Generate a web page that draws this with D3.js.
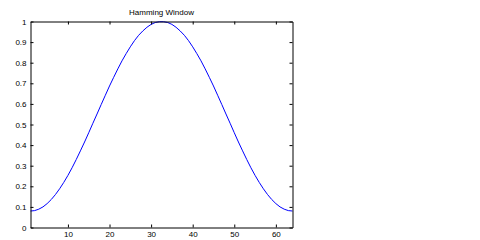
<!DOCTYPE html>
<html lang="en">
<head>
<meta charset="utf-8">
<script src="https://d3js.org/d3.v7.min.js"></script>
<style>
  body { margin: 0; background: #fff; }
  text { font-family: "Liberation Sans", Arial, sans-serif; font-size: 8px; fill: #000; }
</style>
</head>
<body>
<script>
// hamming window, 64 samples
var samples = d3.range(1, 65);
var values = [
  0.080, 0.082, 0.089, 0.100, 0.116, 0.136, 0.160, 0.188,
  0.219, 0.253, 0.290, 0.330, 0.372, 0.415, 0.460, 0.506,
  0.551, 0.597, 0.642, 0.687, 0.729, 0.770, 0.809, 0.844,
  0.877, 0.907, 0.933, 0.954, 0.972, 0.986, 0.995, 0.999,
  0.999, 0.995, 0.986, 0.972, 0.954, 0.933, 0.907, 0.877,
  0.844, 0.809, 0.770, 0.729, 0.687, 0.642, 0.597, 0.551,
  0.506, 0.460, 0.415, 0.372, 0.330, 0.290, 0.253, 0.219,
  0.188, 0.160, 0.136, 0.116, 0.100, 0.089, 0.082, 0.080
];
var xTicks = [10, 20, 30, 40, 50, 60];
var yTicks = [0, 0.1, 0.2, 0.3, 0.4, 0.5, 0.6, 0.7, 0.8, 0.9, 1];

var plotL = 30.5, plotT = 21.5, plotR = 292.5, plotB = 227.5;

var svg = d3.select("body").append("svg")
  .attr("width", 480).attr("height", 240);

var x = d3.scaleLinear().domain([1, 64]).range([plotL, plotR]);
var y = d3.scaleLinear().domain([0, 1]).range([plotB, plotT]);

var line = d3.line()
  .x(function(d, i) { return x(samples[i]); })
  .y(function(d) { return y(d); });

svg.append("path")
  .datum(values)
  .attr("d", line)
  .attr("fill", "none")
  .attr("stroke", "#0000ff")
  .attr("stroke-width", 1);

// axes, ticks pointing inward on all four sides
var fmtY = function(d) { return d === 0 || d === 1 ? d : d3.format(".1f")(d); };

svg.append("g").attr("transform", "translate(0," + plotB + ")")
  .call(d3.axisBottom(x).tickValues(xTicks).tickSizeInner(-3).tickSizeOuter(0).tickPadding(4));
svg.append("g").attr("transform", "translate(0," + plotT + ")")
  .call(d3.axisTop(x).tickValues(xTicks).tickSizeInner(-3).tickSizeOuter(0).tickFormat(""));
svg.append("g").attr("transform", "translate(" + plotL + ",0)")
  .call(d3.axisLeft(y).tickValues(yTicks).tickSizeInner(-3).tickSizeOuter(0).tickPadding(4).tickFormat(fmtY));
svg.append("g").attr("transform", "translate(" + plotR + ",0)")
  .call(d3.axisRight(y).tickValues(yTicks).tickSizeInner(-3).tickSizeOuter(0).tickFormat(""));

svg.selectAll(".domain").attr("stroke", "#000");
svg.selectAll(".tick line").attr("stroke", "#000");
svg.selectAll(".tick text").attr("font-family", null).attr("font-size", null);

svg.append("text")
  .attr("x", (plotL + plotR) / 2)
  .attr("y", plotT - 7)
  .attr("text-anchor", "middle")
  .text("Hamming Window");
</script>
</body>
</html>
